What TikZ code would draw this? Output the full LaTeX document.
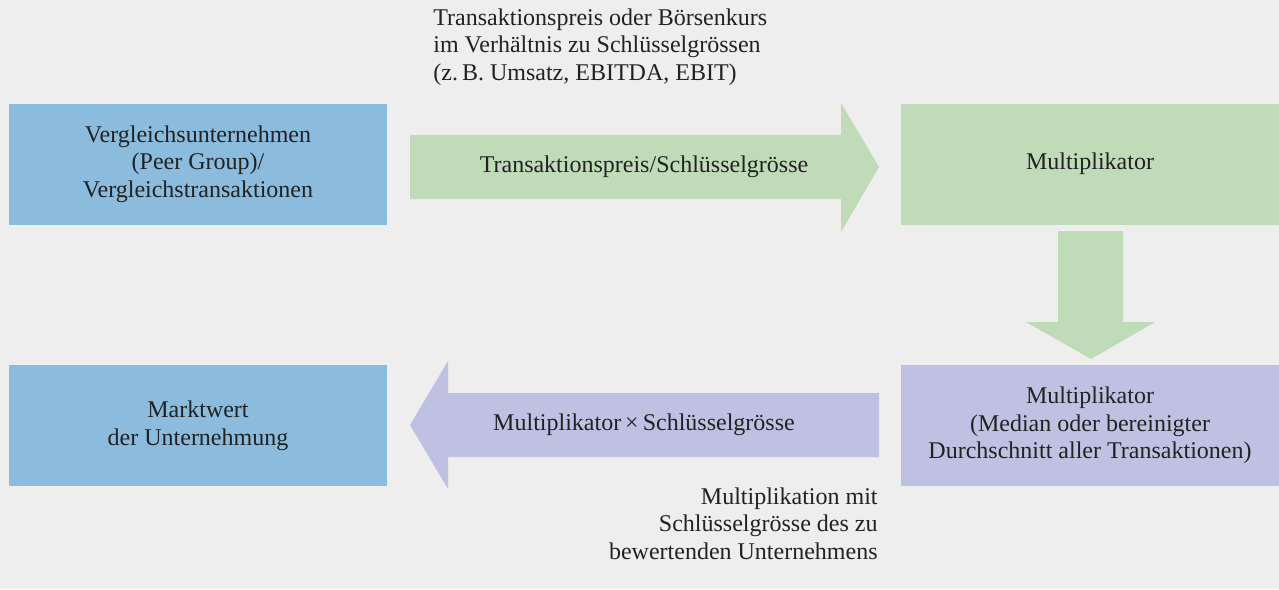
\documentclass[tikz,border=0pt]{standalone}
\usepackage{fontspec}
\setmainfont{Liberation Serif}
\definecolor{bgray}{HTML}{EEEEEE}
\definecolor{boxblue}{HTML}{8BBCDE}
\definecolor{boxgreen}{HTML}{BFDBB8}
\definecolor{boxlilac}{HTML}{BEC1E1}
\definecolor{txt}{HTML}{222222}
\tikzset{
  box/.style={minimum width=189pt, minimum height=60.5pt, inner sep=0pt, align=center, text=txt},
  lbl/.style={inner sep=0pt, align=center, text=txt},
}
\begin{document}
\begin{tikzpicture}[x=0.5pt, y=-0.5pt, font=\fontsize{12}{13.8}\selectfont]
   \useasboundingbox[fill=bgray] (0, 0) rectangle (1279, 589);

   \node[box, fill=boxblue] (peer) at (198, 164) {Vergleichsunternehmen\\(Peer Group)/\\Vergleichstransaktionen};
   \node[box, fill=boxgreen] (mult) at (1090, 164) {Multiplikator};
   \node[box, fill=boxlilac] (median) at (1090, 425.5) {Multiplikator\\(Median oder bereinigter\\Durchschnitt aller Transaktionen)};
   \node[box, fill=boxblue] (wert) at (198, 425.5) {Marktwert\\der Unternehmung};

   \fill[boxgreen] (410, 135) -- (841, 135) -- (841, 103) -- (879, 167) -- (841, 232) -- (841, 199) -- (410, 199) -- cycle;
   \fill[boxgreen] (1058, 231) -- (1123, 231) -- (1123, 322) -- (1155, 322) -- (1091, 359) -- (1026, 322) -- (1058, 322) -- cycle;
   \fill[boxlilac] (879, 393) -- (448, 393) -- (448, 361) -- (410, 425) -- (448, 489) -- (448, 457) -- (879, 457) -- cycle;

   \node[lbl] (ratio) at (644, 167) {Transaktionspreis/Schlüsselgrösse};
   \node[lbl] (product) at (644, 425) {Multiplikator\,×\,Schlüsselgrösse};

   \node[lbl, anchor=north west, align=left] (topnote) at (433, 8) {Transaktionspreis oder Börsenkurs\\im Verhältnis zu Schlüsselgrössen\\(z.\,B. Umsatz, EBITDA, EBIT)};
   \node[lbl, anchor=north east, align=right] (botnote) at (878, 487) {Multiplikation mit\\Schlüsselgrösse des zu\\bewertenden Unternehmens};
\end{tikzpicture}
\end{document}
